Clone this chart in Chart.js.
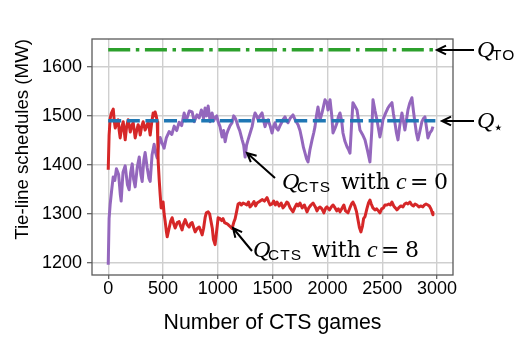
<!DOCTYPE html>
<html>
<head>
<meta charset="utf-8">
<script src="https://cdn.jsdelivr.net/npm/chart.js@4/dist/chart.umd.min.js"></script>
<style>
  html, body { margin: 0; padding: 0; background: #fff; }
  canvas { display: block; }
</style>
</head>
<body>
<canvas id="chart" width="520" height="341"></canvas>
<script>
// Tie-line schedule (MW) after each CTS game, exploration constant c = 0
const gamesC0 = [0, 8, 18, 30, 45, 60, 75, 95, 110, 118, 135, 155, 175, 191, 205, 219, 232, 246, 265, 283,
  298, 310, 325, 337, 355, 372, 383, 400, 419, 432, 447, 460, 474, 490, 510, 530, 556, 580, 602, 625,
  647, 670, 693, 708, 720, 740, 766, 785, 810, 830, 850, 870, 884, 898, 912, 930, 948, 962, 975, 990,
  1003, 1020, 1039, 1053, 1067, 1080, 1094, 1112, 1130, 1145, 1158, 1172, 1185, 1200, 1222, 1236, 1249, 1262, 1276, 1295,
  1313, 1327, 1340, 1355, 1367, 1385, 1404, 1418, 1431, 1445, 1459, 1477, 1495, 1508, 1522, 1536, 1550, 1568, 1586, 1600,
  1613, 1627, 1641, 1660, 1686, 1710, 1732, 1750, 1768, 1782, 1796, 1810, 1823, 1840, 1860, 1875, 1887, 1900, 1914, 1933,
  1951, 1965, 1978, 1996, 2005, 2024, 2040, 2051, 2070, 2088, 2100, 2115, 2130, 2142, 2160, 2179, 2195, 2206, 2220, 2233,
  2250, 2270, 2285, 2297, 2320, 2343, 2365, 2388, 2405, 2416, 2435, 2452, 2465, 2479, 2495, 2507, 2530, 2552, 2570, 2589,
  2602, 2616, 2630, 2644, 2660, 2680, 2693, 2707, 2720, 2735, 2750, 2771, 2785, 2799, 2812, 2826, 2845, 2862, 2875, 2890,
  2905, 2917, 2935, 2953, 2963];
const tieC0 = [1196, 1290, 1320, 1345, 1375, 1368, 1392, 1380, 1340, 1326, 1385, 1398, 1360, 1349, 1385, 1402, 1370, 1355, 1395, 1416,
  1380, 1366, 1410, 1425, 1395, 1372, 1366, 1420, 1442, 1425, 1414, 1440, 1456, 1445, 1434, 1455, 1468, 1462, 1479, 1470,
  1487, 1480, 1506, 1490, 1496, 1510, 1508, 1488, 1502, 1496, 1512, 1495, 1516, 1500, 1520, 1488, 1506, 1490, 1496, 1500,
  1488, 1478, 1457, 1470, 1447, 1462, 1471, 1480, 1486, 1500, 1496, 1488, 1478, 1470, 1451, 1440, 1416, 1440, 1451, 1465,
  1478, 1495, 1506, 1500, 1492, 1500, 1506, 1490, 1478, 1488, 1492, 1480, 1465, 1478, 1486, 1475, 1471, 1480, 1488, 1494,
  1498, 1490, 1486, 1495, 1502, 1490, 1482, 1470, 1451, 1435, 1424, 1412, 1406, 1430, 1451, 1465, 1478, 1500, 1518, 1492,
  1506, 1520, 1533, 1527, 1512, 1533, 1500, 1465, 1475, 1486, 1498, 1506, 1490, 1465, 1448, 1437, 1430, 1424, 1480, 1527,
  1520, 1512, 1490, 1471, 1462, 1451, 1430, 1406, 1470, 1533, 1510, 1492, 1475, 1457, 1475, 1492, 1505, 1516, 1522, 1527,
  1505, 1486, 1465, 1451, 1480, 1506, 1490, 1471, 1490, 1512, 1525, 1537, 1510, 1486, 1465, 1451, 1470, 1488, 1494, 1498,
  1475, 1455, 1465, 1471, 1478];

// Tie-line schedule (MW) after each CTS game, exploration constant c = 8
const gamesC8 = [0, 8, 18, 28, 46, 55, 64, 78, 91, 100, 109, 122, 137, 146, 155, 168, 182, 192, 201, 215,
  228, 237, 246, 260, 273, 283, 292, 305, 319, 328, 337, 352, 365, 374, 383, 396, 410, 420, 428, 438,
  447, 452, 456, 465, 474, 483, 492, 501, 510, 520, 530, 538, 547, 556, 570, 583, 597, 611, 630, 647,
  660, 674, 688, 702, 720, 738, 752, 766, 780, 793, 812, 830, 845, 857, 870, 884, 895, 912, 925, 940,
  950, 960, 975, 988, 1003, 1020, 1035, 1048, 1062, 1080, 1094, 1112, 1130, 1145, 1158, 1172, 1185, 1200, 1215, 1231,
  1250, 1265, 1280, 1294, 1310, 1330, 1345, 1358, 1380, 1404, 1425, 1449, 1463, 1477, 1495, 1510, 1525, 1540, 1560, 1578,
  1595, 1615, 1630, 1641, 1660, 1686, 1705, 1720, 1735, 1750, 1770, 1790, 1814, 1830, 1850, 1869, 1890, 1905, 1920, 1933,
  1950, 1968, 1985, 1996, 2020, 2035, 2051, 2070, 2085, 2100, 2115, 2135, 2150, 2165, 2188, 2205, 2220, 2233, 2250, 2265,
  2279, 2292, 2306, 2320, 2330, 2343, 2360, 2375, 2388, 2400, 2415, 2434, 2450, 2465, 2479, 2495, 2510, 2525, 2543, 2560,
  2575, 2589, 2605, 2620, 2634, 2650, 2670, 2689, 2705, 2720, 2735, 2753, 2770, 2785, 2800, 2817, 2835, 2850, 2871, 2885,
  2900, 2917, 2930, 2945, 2955, 2963];
const tieC8 = [1390, 1460, 1495, 1505, 1514, 1490, 1475, 1485, 1492, 1470, 1455, 1475, 1488, 1468, 1451, 1478, 1492, 1480, 1467, 1480,
  1486, 1470, 1455, 1470, 1482, 1475, 1461, 1478, 1488, 1480, 1471, 1480, 1488, 1475, 1461, 1485, 1506, 1500, 1508, 1500,
  1488, 1450, 1406, 1370, 1339, 1312, 1318, 1324, 1300, 1284, 1265, 1253, 1262, 1271, 1285, 1292, 1280, 1271, 1282, 1284,
  1275, 1267, 1280, 1288, 1278, 1273, 1280, 1282, 1272, 1263, 1270, 1273, 1265, 1257, 1270, 1292, 1302, 1304, 1300, 1282,
  1270, 1248, 1237, 1262, 1292, 1290, 1286, 1290, 1282, 1280, 1278, 1274, 1270, 1282, 1290, 1305, 1320, 1322, 1318, 1322,
  1320, 1318, 1324, 1314, 1318, 1325, 1316, 1322, 1325, 1329, 1326, 1333, 1325, 1318, 1320, 1326, 1318, 1324, 1316, 1322,
  1312, 1318, 1324, 1322, 1312, 1304, 1314, 1320, 1316, 1322, 1312, 1318, 1304, 1312, 1318, 1322, 1314, 1306, 1312, 1314,
  1310, 1302, 1312, 1314, 1308, 1314, 1318, 1312, 1306, 1310, 1304, 1312, 1318, 1306, 1302, 1312, 1320, 1324, 1316, 1305,
  1288, 1272, 1263, 1275, 1290, 1294, 1310, 1322, 1328, 1320, 1312, 1308, 1310, 1306, 1302, 1310, 1312, 1318, 1318, 1320,
  1318, 1324, 1316, 1312, 1308, 1312, 1316, 1314, 1320, 1322, 1320, 1324, 1318, 1316, 1320, 1318, 1314, 1316, 1314, 1318,
  1320, 1318, 1316, 1310, 1303, 1298];

// Reference schedules (MW)
const refGames = [0, 2985];
const qTO = 1635;
const qStar = 1490;

// Axis ticks
const xTicks = [0, 500, 1000, 1500, 2000, 2500, 3000];
const yTicks = [1200, 1300, 1400, 1500, 1600];

const toPoints = (xs, ys) => xs.map((x, i) => ({ x: x, y: ys[i] }));
const flat = (v) => refGames.map(x => ({ x: x, y: v }));

// Frame around the plotting area (drawn above the curves)
const framePlugin = {
  id: 'frame',
  afterDatasetsDraw(chart) {
    const { ctx, chartArea: a } = chart;
    ctx.save();
    ctx.strokeStyle = '#5a5a5a';
    ctx.lineWidth = 1.3;
    ctx.strokeRect(a.left, a.top, a.right - a.left, a.bottom - a.top);
    ctx.restore();
  }
};

function arrow(ctx, x1, y1, x2, y2) {
  // tail (x1,y1) -> tip (x2,y2), open arrow head
  const ang = Math.atan2(y2 - y1, x2 - x1);
  const len = 10, spread = 0.45;
  ctx.beginPath();
  ctx.moveTo(x1, y1);
  ctx.lineTo(x2, y2);
  ctx.moveTo(x2 - len * Math.cos(ang - spread), y2 - len * Math.sin(ang - spread));
  ctx.lineTo(x2, y2);
  ctx.lineTo(x2 - len * Math.cos(ang + spread), y2 - len * Math.sin(ang + spread));
  ctx.stroke();
}

function text(ctx, str, font, x, y, spacing) {
  ctx.font = font;
  if ('letterSpacing' in ctx) ctx.letterSpacing = spacing || '0px';
  ctx.fillText(str, x, y);
}

const FQ = 'italic 24px "Liberation Serif"';
const FSUB = '15.5px "Liberation Sans"';
const FRM = '22px "DejaVu Serif"';

function ctsLabel(ctx, x0, b, digit) {
  text(ctx, 'Q', FQ, x0, b);
  text(ctx, 'CTS', FSUB, x0 + 15, b + 3, '1px');
  text(ctx, 'with', FRM, x0 + 59, b);
  text(ctx, 'c', FQ, x0 + 114, b);
  text(ctx, '=', FRM, x0 + 128, b);
  text(ctx, digit, FRM, x0 + 152, b);
}

const notePlugin = {
  id: 'notes',
  afterDraw(chart) {
    const ctx = chart.ctx;
    ctx.save();
    ctx.strokeStyle = '#000';
    ctx.fillStyle = '#000';
    ctx.lineWidth = 2;
    ctx.lineCap = 'butt';
    ctx.textBaseline = 'alphabetic';
    ctx.textAlign = 'left';

    arrow(ctx, 474, 50, 437, 50);
    text(ctx, 'Q', FQ, 477, 57);
    text(ctx, 'TO', FSUB, 492, 60, '1px');

    arrow(ctx, 474, 121, 442, 121);
    text(ctx, 'Q', FQ, 477, 128);
    text(ctx, '\u22C6', '17px "DejaVu Sans"', 493, 133);

    arrow(ctx, 275, 178, 247, 153);
    ctsLabel(ctx, 282, 189, '0');

    arrow(ctx, 252, 251, 233, 228);
    ctsLabel(ctx, 253, 257, '8');
    ctx.restore();
  }
};

const plainTick = v => String(v);

new Chart(document.getElementById('chart'), {
  type: 'line',
  data: {
    datasets: [
      { label: 'Q*', data: flat(qStar), borderColor: '#1f77b4', borderWidth: 3.5, borderDash: [13, 5.6] },
      { label: 'QTO', data: flat(qTO), borderColor: '#2ca02c', borderWidth: 3.5, borderDash: [22, 5.6, 3.5, 5.6] },
      { label: 'c = 8', data: toPoints(gamesC8, tieC8), borderColor: '#d62728', borderWidth: 3 },
      { label: 'c = 0', data: toPoints(gamesC0, tieC0), borderColor: '#9467bd', borderWidth: 3 }
    ]
  },
  options: {
    responsive: false,
    animation: false,
    devicePixelRatio: 1,
    layout: { padding: { left: 0, top: 39, right: 67, bottom: 0 } },
    elements: {
      point: { radius: 0, hoverRadius: 0 },
      line: { tension: 0, fill: false, borderJoinStyle: 'round', borderCapStyle: 'butt' }
    },
    plugins: { legend: { display: false }, tooltip: { enabled: false } },
    scales: {
      x: {
        type: 'linear',
        min: -148,
        max: 3146,
        afterBuildTicks: s => { s.ticks = xTicks.map(v => ({ value: v })); },
        afterFit: s => { s.height = 66; s.paddingLeft = 0; s.paddingRight = 0; },
        ticks: { color: '#000', callback: plainTick, font: { family: '"Liberation Sans"', size: 18, lineHeight: 1 }, padding: 1, maxRotation: 0, autoSkip: false },
        grid: { color: '#cfcfcf', lineWidth: 1.4, tickLength: 4, tickColor: '#5a5a5a', tickWidth: 1.2 },
        border: { display: false },
        title: {
          display: true, text: 'Number of CTS games', color: '#000',
          font: { family: '"Liberation Sans"', size: 21.3, lineHeight: 1.2 },
          padding: { top: 0, bottom: 5.6 }
        }
      },
      y: {
        type: 'linear',
        min: 1175,
        max: 1657,
        afterBuildTicks: s => { s.ticks = yTicks.map(v => ({ value: v })); },
        afterFit: s => { s.width = 92; s.paddingTop = 0; s.paddingBottom = 0; },
        ticks: { color: '#000', callback: plainTick, font: { family: '"Liberation Sans"', size: 18, lineHeight: 1 }, padding: 5 },
        grid: { color: '#cfcfcf', lineWidth: 1.4, tickLength: 5, tickColor: '#5a5a5a', tickWidth: 1.2 },
        border: { display: false },
        title: {
          display: true, text: 'Tie-line schedules (MW)', color: '#000', align: 'end',
          font: { family: '"Liberation Sans"', size: 18.7, lineHeight: 1.2 },
          padding: { top: 11.2, bottom: 0 }
        }
      }
    }
  },
  plugins: [framePlugin, notePlugin]
});
</script>
</body>
</html>
